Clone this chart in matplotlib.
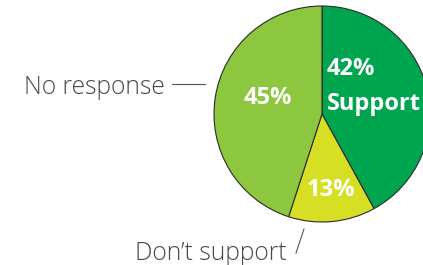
import matplotlib.pyplot as plt

labels = ['Support', "Don\u2019t support", 'No response']
shares = [42, 13, 45]
colors = ['#00a54f', '#d6df23', '#8dc63f']

plt.rcParams['font.family'] = ['Open Sans', 'DejaVu Sans']

fig = plt.figure(figsize=(4.23, 2.65), dpi=100)
ax = fig.add_axes([0, 0, 1, 1])

wedges, _ = ax.pie(shares, colors=colors, startangle=90, counterclock=False,
                   center=(322, 151), radius=108,
                   wedgeprops=dict(edgecolor='#2b2b2b', linewidth=0.8))
ax.set_xlim(0, 423)
ax.set_ylim(0, 265)
ax.set_aspect('equal')
ax.axis('off')

# values inside the slices
ax.text(327, 196, f'{shares[0]}%', color='white', fontsize=17, fontweight='bold',
        ha='left', va='center')
ax.text(327, 161, labels[0], color='white', fontsize=17, fontweight='bold',
        ha='left', va='center')
ax.text(268, 167, f'{shares[2]}%', color='white', fontsize=17, fontweight='bold',
        ha='center', va='center')
ax.text(331, 75, f'{shares[1]}%', color='white', fontsize=17, fontweight='bold',
        ha='center', va='center')

# outside labels with leader lines
ax.text(165, 178, labels[2], color='#4a4a4a', fontsize=17.7, fontweight='light',
        ha='right', va='center')
ax.plot([172, 205], [181, 181], color='#555555', linewidth=0.8)
ax.text(287, 11, labels[1], color='#4a4a4a', fontsize=17.7, fontweight='light',
        ha='right', va='center')
ax.plot([296, 304], [12, 36], color='#555555', linewidth=0.8)

fig.savefig('out.png', dpi=100)
